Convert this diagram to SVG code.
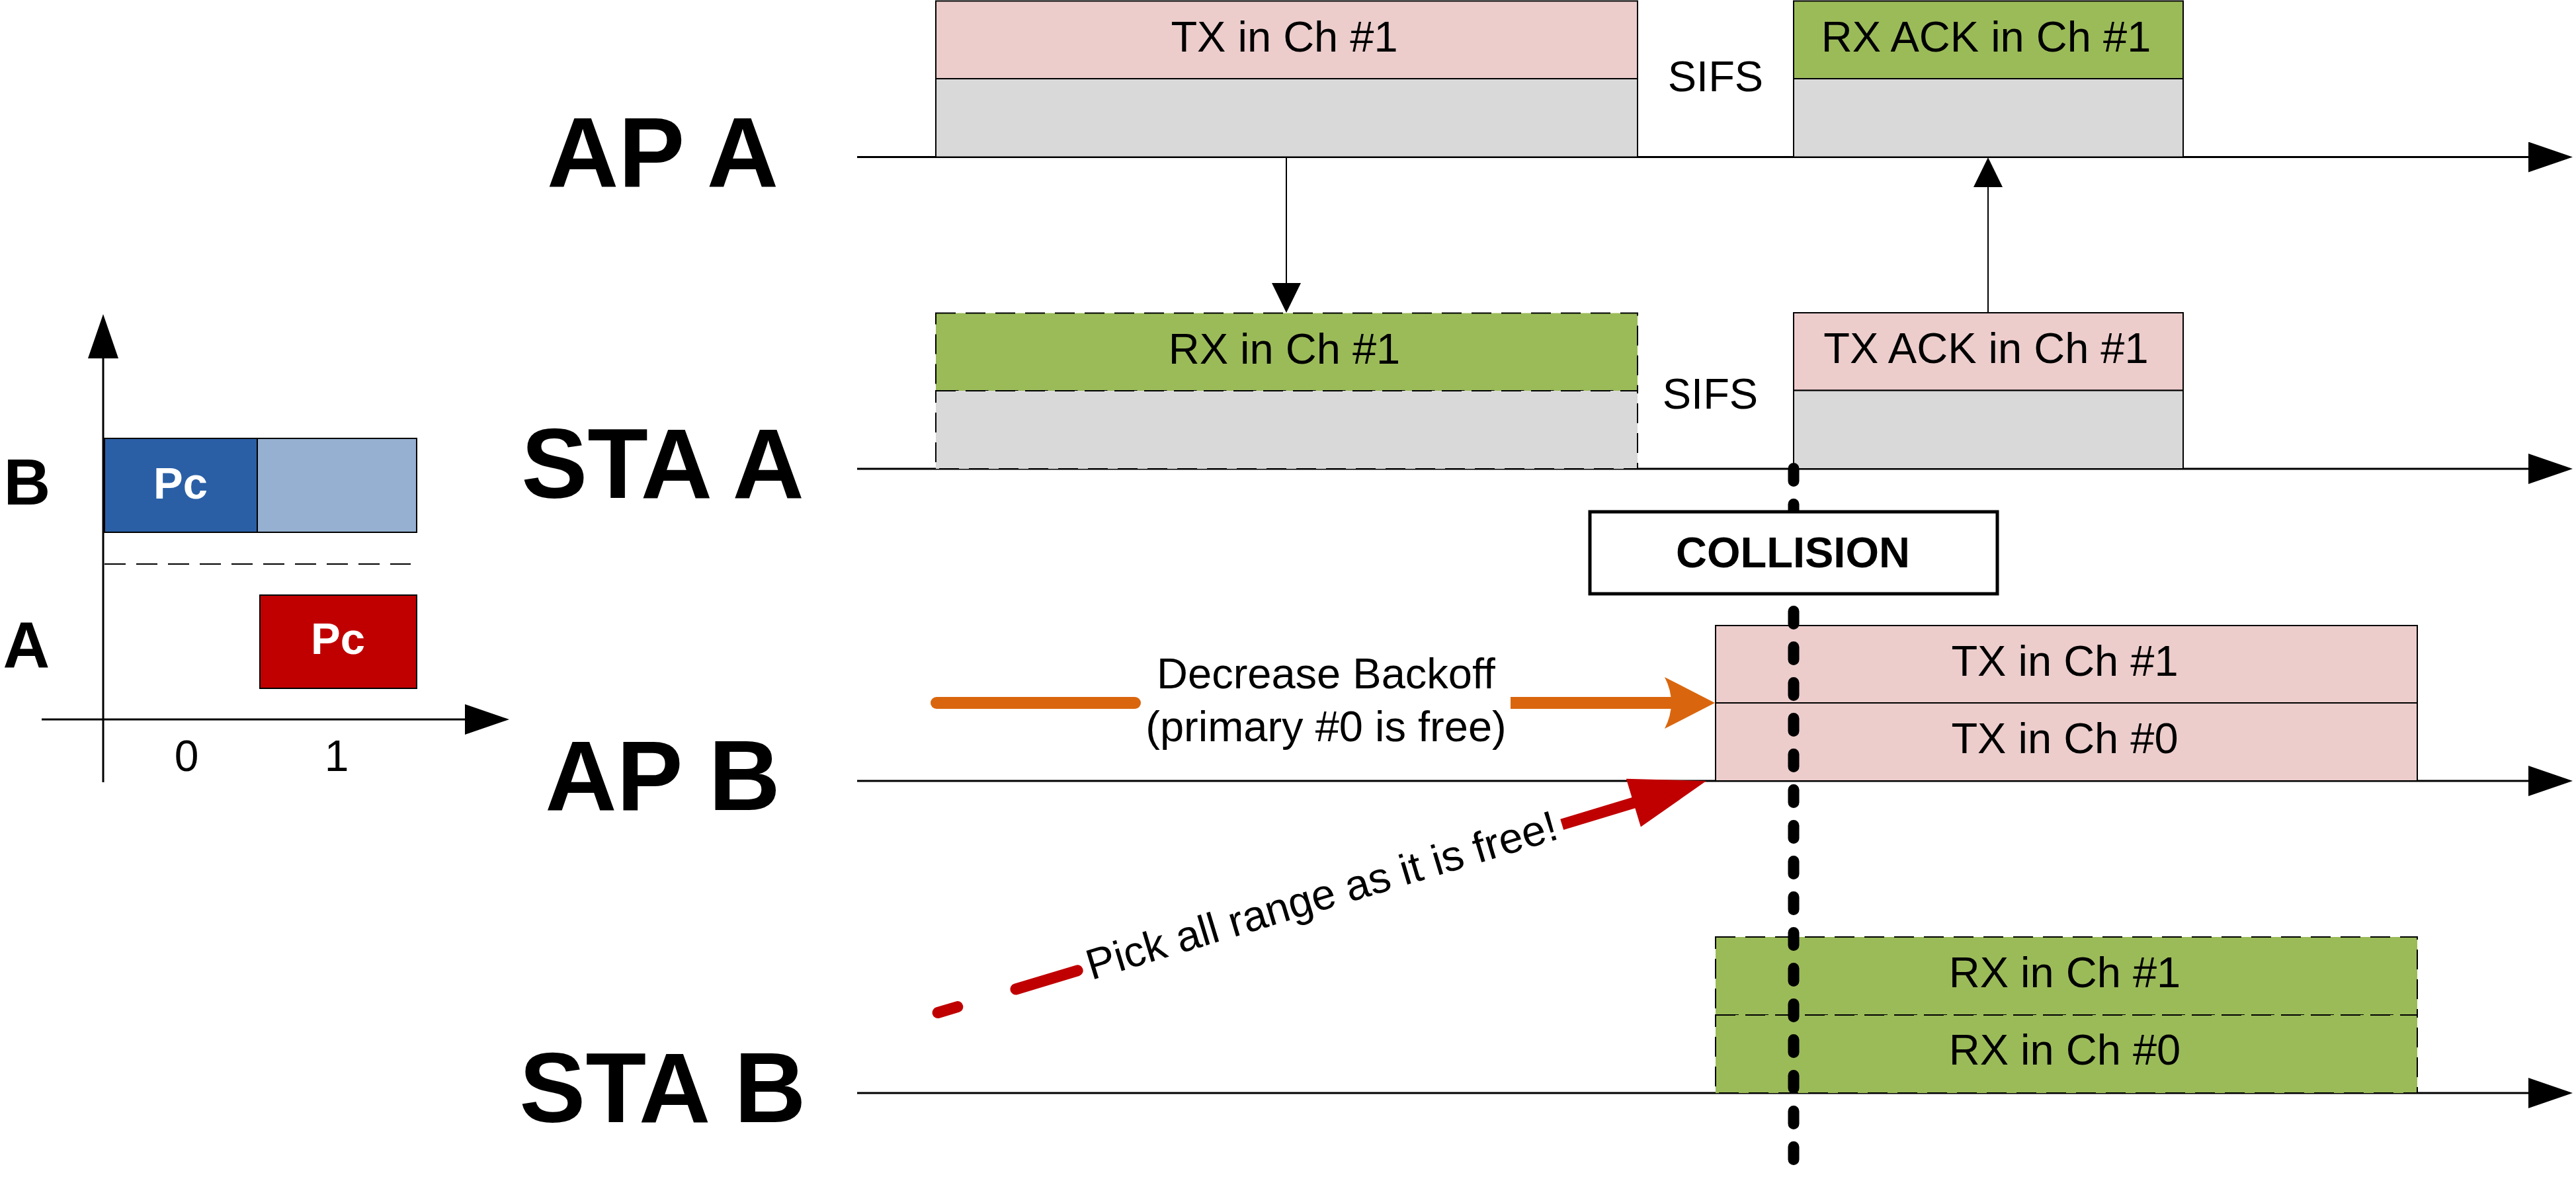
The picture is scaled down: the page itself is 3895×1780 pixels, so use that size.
<svg xmlns="http://www.w3.org/2000/svg" width="3895" height="1780" viewBox="0 0 3895 1780">
<style>
text{font-family:"Liberation Sans",Arial,sans-serif;fill:#000}
.lbl{font-size:150px;font-weight:bold;text-anchor:middle}
.t{font-size:65px;text-anchor:middle}
.axis{stroke:#000;stroke-width:3;fill:none}
.box{stroke:#000;stroke-width:2}
.dbox{stroke:#000;stroke-width:2;stroke-dasharray:30 15}
.pink{fill:#ECCDCC}
.gray{fill:#D9D9D9}
.green{fill:#9BBB59}
.conn{stroke:#000;stroke-width:2;fill:none}
</style>
<defs>
<marker id="big" markerUnits="userSpaceOnUse" markerWidth="67" markerHeight="46" refX="57" refY="23" orient="auto">
<path d="M0,0 L67,23 L0,46 Z" fill="#000"/>
</marker>
<marker id="small" markerUnits="userSpaceOnUse" markerWidth="45" markerHeight="44" refX="43" refY="22" orient="auto">
<path d="M0,0 L45,22 L0,44 Z" fill="#000"/>
</marker>
</defs>
<rect width="3895" height="1780" fill="#fff"/>

<!-- legend chart -->
<g id="legend">
<line class="axis" x1="156" y1="1183" x2="156" y2="485" marker-end="url(#big)"/>
<line class="axis" x1="63" y1="1088" x2="760" y2="1088" marker-end="url(#big)"/>
<rect x="158" y="663" width="231" height="142" fill="#2A5FA6" class="box"/>
<rect x="389" y="663" width="241" height="142" fill="#95B0D0" class="box"/>
<line x1="158" y1="853" x2="621" y2="853" stroke="#000" stroke-width="2" stroke-dasharray="32 16"/>
<rect x="393" y="900" width="237" height="141" fill="#C00000" class="box"/>
<text x="273" y="754" font-size="67" font-weight="bold" text-anchor="middle" style="fill:#fff">Pc</text>
<text x="511" y="989" font-size="67" font-weight="bold" text-anchor="middle" style="fill:#fff">Pc</text>
<text x="41" y="763" font-size="98" font-weight="bold" text-anchor="middle">B</text>
<text x="40" y="1009" font-size="98" font-weight="bold" text-anchor="middle">A</text>
<text x="282" y="1166" font-size="66" text-anchor="middle">0</text>
<text x="509" y="1166" font-size="66" text-anchor="middle">1</text>
</g>

<!-- station labels -->
<g id="labels">
<text class="lbl" x="1002" y="282">AP A</text>
<text class="lbl" x="1002" y="753">STA A</text>
<text class="lbl" x="1002" y="1225">AP B</text>
<text class="lbl" x="1002" y="1697">STA B</text>
</g>

<!-- time axes -->
<g id="axes">
<line class="axis" x1="1296" y1="237.5" x2="3880" y2="237.5" marker-end="url(#big)"/>
<line class="axis" x1="1296" y1="709" x2="3880" y2="709" marker-end="url(#big)"/>
<line class="axis" x1="1296" y1="1181" x2="3880" y2="1181" marker-end="url(#big)"/>
<line class="axis" x1="1296" y1="1653" x2="3880" y2="1653" marker-end="url(#big)"/>
</g>

<!-- AP A TX -->
<g id="apa-tx">
<rect class="box pink" x="1415" y="1.5" width="1061" height="117.5"/>
<rect class="box gray" x="1415" y="119" width="1061" height="118.5"/>
<text class="t" x="1942" y="78">TX in Ch #1</text>
</g>
<g id="apa-rxack">
<rect class="box green" x="2712" y="1.5" width="589" height="117.5"/>
<rect class="box gray" x="2712" y="119" width="589" height="118.5"/>
<text class="t" x="3003" y="78">RX ACK in Ch #1</text>
</g>
<g id="sifs-a"><text class="t" x="2594" y="138">SIFS</text></g>

<!-- STA A -->
<g id="staa-rx">
<rect class="dbox green" x="1415" y="473.5" width="1061" height="117.5"/>
<rect class="dbox gray" x="1415" y="591" width="1061" height="118"/>
<text class="t" x="1942" y="550">RX in Ch #1</text>
</g>
<g id="staa-txack">
<rect class="box pink" x="2712" y="473" width="589" height="117.5"/>
<rect class="box gray" x="2712" y="590.5" width="589" height="118.5"/>
<text class="t" x="3003" y="549">TX ACK in Ch #1</text>
</g>
<g id="sifs-b"><text class="t" x="2586" y="618">SIFS</text></g>

<!-- AP B -->
<g id="apb-tx">
<rect class="box pink" x="2594" y="946" width="1061" height="117"/>
<rect class="box pink" x="2594" y="1063" width="1061" height="118"/>
<text class="t" x="3122" y="1022">TX in Ch #1</text>
<text class="t" x="3122" y="1139">TX in Ch #0</text>
</g>

<!-- STA B -->
<g id="stab-rx">
<rect class="dbox green" x="2594" y="1417" width="1061" height="118"/>
<rect class="dbox green" x="2594" y="1535" width="1061" height="118"/>
<text class="t" x="3122" y="1493">RX in Ch #1</text>
<text class="t" x="3122" y="1610">RX in Ch #0</text>
</g>

<!-- connectors -->
<g id="connectors">
<line class="conn" x1="1945" y1="237.5" x2="1945" y2="471" marker-end="url(#small)"/>
<line class="conn" x1="3006" y1="473" x2="3006" y2="240" marker-end="url(#small)"/>
<line x1="2712" y1="708.5" x2="2712" y2="1754" stroke="#000" stroke-width="17" stroke-linecap="round" stroke-dasharray="19 35"/>
<!-- orange -->
<line x1="1416" y1="1063" x2="1716" y2="1063" stroke="#D9660E" stroke-width="18" stroke-linecap="round"/>
<line x1="2284" y1="1063" x2="2532" y2="1063" stroke="#D9660E" stroke-width="18"/>
<path d="M2593,1063 L2517,1024 Q2537,1063 2517,1102 Z" fill="#D9660E"/>
<!-- red -->
<line x1="1418.1" y1="1531.5" x2="1447.8" y2="1522.6" stroke="#C00000" stroke-width="17" stroke-linecap="round"/>
<line x1="1535.9" y1="1496.0" x2="1629.2" y2="1467.8" stroke="#C00000" stroke-width="17" stroke-linecap="round"/>
<line x1="2361.7" y1="1246.8" x2="2474" y2="1212.9" stroke="#C00000" stroke-width="17"/>
<polygon points="2580,1181 2458.9,1177.8 2480.9,1250.6" fill="#C00000"/>
</g>

<g id="collision">
<rect x="2404" y="774" width="616" height="124" fill="#fff" stroke="#000" stroke-width="5"/>
<text x="2711" y="858" font-size="65" font-weight="bold" text-anchor="middle">COLLISION</text>
</g>

<g id="decrease-label">
<text class="t" x="2005" y="1041">Decrease Backoff</text>
<text class="t" x="2005" y="1121">(primary #0 is free)</text>
</g>
<g id="pick-label" transform="translate(1999,1356) rotate(-16.8)">
<text class="t" x="0" y="20">Pick all range as it is free!</text>
</g>
</svg>
